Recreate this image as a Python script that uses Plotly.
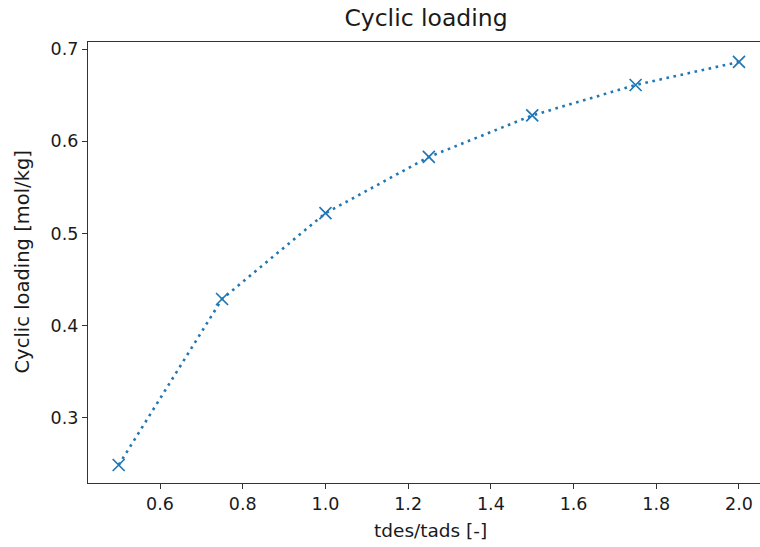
import plotly.graph_objects as go

# Cyclic loading vs. desorption/adsorption time ratio
time_ratio = [0.5, 0.75, 1.0, 1.25, 1.5, 1.75, 2.0]
cyclic_loading = [0.249, 0.429, 0.522, 0.583, 0.628, 0.661, 0.686]

x_ticks = [0.6, 0.8, 1.0, 1.2, 1.4, 1.6, 1.8, 2.0]
y_ticks = [0.3, 0.4, 0.5, 0.6, 0.7]

blue = "#1f77b4"
font = "DejaVu Sans"
text_color = "#1a1a1a"

fig = go.Figure()
fig.add_trace(go.Scatter(
    x=time_ratio,
    y=cyclic_loading,
    mode="lines+markers",
    line=dict(color=blue, width=2.6, dash="2.6px,4.6px"),
    marker=dict(symbol="x-thin", size=12, line=dict(color=blue, width=1.7)),
    showlegend=False,
))

axis_common = dict(
    showgrid=False,
    zeroline=False,
    showline=True,
    linecolor="#333333",
    linewidth=1.3,
    ticks="outside",
    ticklen=5,
    tickwidth=1.2,
    tickcolor="#333333",
    tickfont=dict(family=font, size=17.5, color=text_color),
)

fig.update_layout(
    width=760,
    height=547,
    margin=dict(l=88, r=0, t=42, b=64),
    paper_bgcolor="white",
    plot_bgcolor="white",
    font=dict(family=font, color=text_color),
    title=dict(text="Cyclic loading", x=426 / 760, xanchor="center", y=1 - 18 / 547, yanchor="middle",
               font=dict(family=font, size=23.5, color=text_color)),
    xaxis=dict(
        **axis_common,
        range=[0.4258, 2.0508],
        tickvals=x_ticks,
        ticktext=[f"{v:.1f}" for v in x_ticks],
        mirror=True,
    ),
    yaxis=dict(
        **axis_common,
        range=[0.2295, 0.7076],
        tickvals=y_ticks,
        ticktext=[f"{v:.1f}" for v in y_ticks],
        mirror=False,
    ),
    annotations=[
        dict(text="tdes/tads [-]", xref="paper", yref="paper",
             x=(430 - 88) / 672, y=-(530 - 483) / 441, xanchor="center", yanchor="middle",
             showarrow=False, font=dict(family=font, size=18.5, color=text_color)),
        dict(text="Cyclic loading [mol/kg]", xref="paper", yref="paper",
             x=(22 - 88) / 672, y=0.5, xanchor="center", yanchor="middle", textangle=-90,
             showarrow=False, font=dict(family=font, size=19.5, color=text_color)),
    ],
)

fig.write_html("out.html")
